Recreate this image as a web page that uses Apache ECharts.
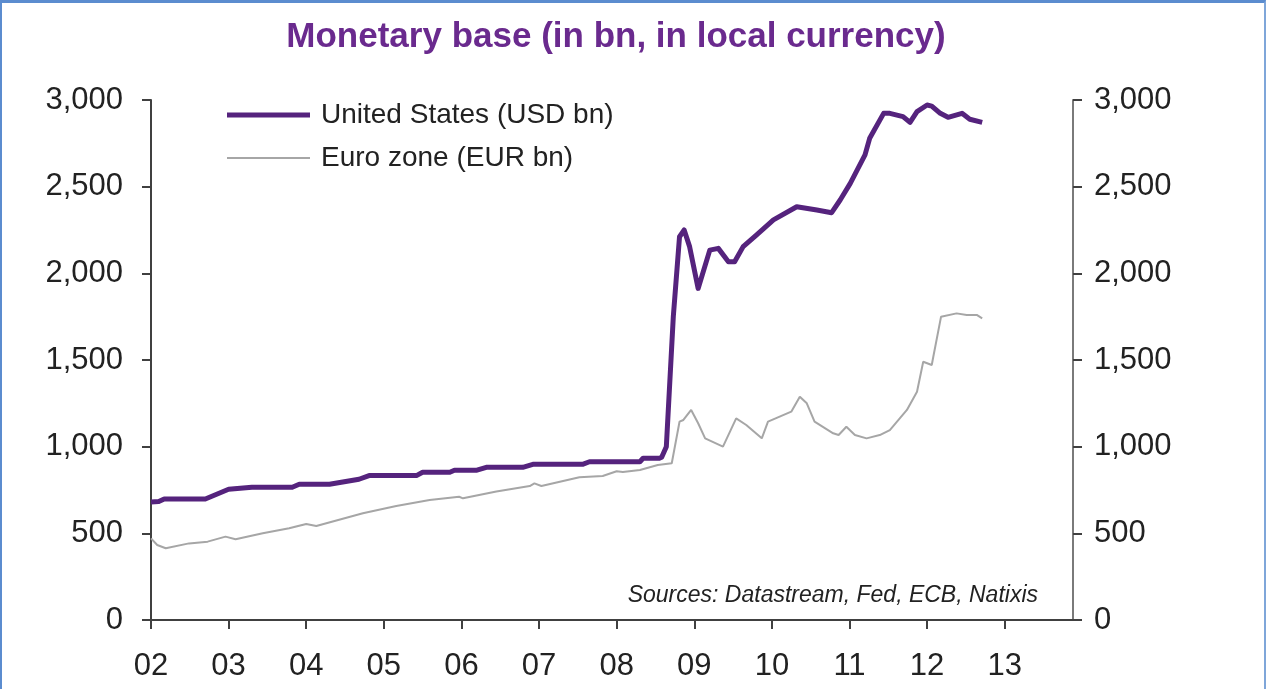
<!DOCTYPE html>
<html>
<head>
<meta charset="utf-8">
<title>Monetary base</title>
<script src="https://cdn.jsdelivr.net/npm/echarts@6/dist/echarts.min.js"></script>
<style>
  html, body { margin: 0; padding: 0; background: #fff; }
  #frame {
    position: absolute; left: 0; top: 0; width: 1266px; height: 689px;
    box-sizing: border-box;
    border-top: 3px solid #5b8ccf;
    border-left: 2px solid #5b8ccf;
    border-right: 2px solid #7fa6d9;
    pointer-events: none;
  }
  #chart { position: absolute; left: 0; top: 0; width: 1266px; height: 689px; }
</style>
</head>
<body>
<div id="chart"></div>
<div id="frame"></div>
<script>
// x values are decimal years (2002.5 = mid 2002)
const yearTicks = [2002, 2003, 2004, 2005, 2006, 2007, 2008, 2009, 2010, 2011, 2012, 2013];

const usDates = [
  2002.0, 2002.1, 2002.17, 2002.7, 2003.0, 2003.3, 2003.82, 2003.91, 2004.3, 2004.68,
  2004.81, 2005.42, 2005.5, 2005.85, 2005.91, 2006.2, 2006.32, 2006.79, 2006.92, 2007.56,
  2007.65, 2008.3, 2008.34, 2008.55, 2008.58, 2008.64, 2008.73, 2008.81, 2008.87, 2008.94,
  2009.05, 2009.2, 2009.31, 2009.44, 2009.52, 2009.63, 2009.8, 2010.02, 2010.32, 2010.58,
  2010.77, 2010.88, 2011.01, 2011.2, 2011.26, 2011.44, 2011.52, 2011.69, 2011.78, 2011.87,
  2012.0, 2012.06, 2012.17, 2012.27, 2012.45, 2012.55, 2012.71
];
const usValues = [
  681, 683, 698, 698, 754, 766, 766, 783, 783, 812,
  833, 833, 852, 852, 864, 864, 881, 881, 898, 898,
  913, 913, 933, 933, 939, 1000, 1750, 2211, 2250, 2154,
  1913, 2134, 2144, 2067, 2067, 2154, 2221, 2308, 2384, 2365,
  2350, 2423, 2519, 2683, 2779, 2923, 2923, 2904, 2871, 2933,
  2971, 2965, 2923, 2900, 2923, 2889, 2871
];

const euDates = [
  2002.0, 2002.08, 2002.19, 2002.49, 2002.73, 2002.96, 2003.09, 2003.44, 2003.78, 2004.0,
  2004.13, 2004.73, 2005.16, 2005.59, 2005.97, 2006.02, 2006.45, 2006.88, 2006.94, 2007.03,
  2007.52, 2007.82, 2008.0, 2008.08, 2008.3, 2008.53, 2008.71, 2008.81, 2008.86, 2008.96,
  2009.05, 2009.14, 2009.37, 2009.54, 2009.67, 2009.87, 2009.95, 2010.25, 2010.36, 2010.45,
  2010.55, 2010.79, 2010.86, 2010.96, 2011.07, 2011.22, 2011.39, 2011.52, 2011.74, 2011.87,
  2011.95, 2012.06, 2012.08, 2012.18, 2012.38, 2012.51, 2012.64, 2012.66, 2012.71
];
const euValues = [
  471, 433, 414, 442, 452, 481, 466, 500, 529, 554,
  542, 616, 658, 692, 711, 702, 741, 773, 788, 773,
  823, 831, 858, 854, 865, 894, 904, 1144, 1154, 1212,
  1135, 1048, 1000, 1163, 1125, 1048, 1144, 1202, 1288, 1250,
  1144, 1077, 1067, 1115, 1067, 1048, 1067, 1096, 1212, 1317,
  1490, 1471, 1519, 1750, 1769, 1760, 1760, 1769, 1740
];

const titleText = "Monetary base (in bn, in local currency)";
const sourceText = "Sources: Datastream, Fed, ECB, Natixis";
const usName = "United States (USD bn)";
const euName = "Euro zone (EUR bn)";

const FONT = "'Liberation Sans', Arial, sans-serif";
const US_COLOR = "#55237d";
const EU_COLOR = "#a6a6a6";

function pairs(xs, ys) {
  return xs.map((x, i) => [x, ys[i]]);
}

function fmtThousands(v) {
  return v.toLocaleString("en-US");
}

function legendFor(name, color, thickness, top) {
  return {
    orient: "vertical",
    left: 222,
    top: top,
    itemWidth: 83,
    itemHeight: thickness,
    data: [{ name: name, icon: "rect", itemStyle: { color: color } }],
    textStyle: {
      fontFamily: FONT,
      fontSize: 28,
      color: "#222",
      padding: [0, 0, 0, 6],
    },
  };
}

const axisLabelStyle = {
  fontFamily: FONT,
  fontSize: 31,
  color: "#222",
};

const chart = echarts.init(document.getElementById("chart"));

chart.setOption({
  animation: false,
  backgroundColor: "#fff",
  title: {
    text: titleText,
    left: 611,
    textAlign: "center",
    top: 15,
    textStyle: {
      fontFamily: FONT,
      fontSize: 35,
      fontWeight: "bold",
      color: "#6a2a8e",
    },
  },
  legend: [
    legendFor(usName, US_COLOR, 5, 96),
    legendFor(euName, EU_COLOR, 2, 139),
  ],
  graphic: [
    {
      type: "text",
      right: 1266 - 1038,
      top: 584,
      style: {
        text: sourceText,
        font: "italic 23px " + FONT,
        fill: "#222",
      },
    },
  ],
  grid: {
    left: 151,
    right: 193,
    top: 100,
    bottom: 69,
  },
  xAxis: {
    type: "value",
    min: 2002,
    max: 2013.88,
    interval: 1,
    splitLine: { show: false },
    axisLine: { lineStyle: { color: "#404040", width: 2 } },
    axisTick: {
      length: 9,
      customValues: yearTicks,
      lineStyle: { color: "#404040", width: 2 },
    },
    axisLabel: Object.assign({}, axisLabelStyle, {
      customValues: yearTicks,
      margin: 31,
      formatter: (v) => String(Math.round(v) % 100).padStart(2, "0"),
    }),
  },
  yAxis: [
    {
      type: "value",
      position: "left",
      min: 0,
      max: 3000,
      interval: 500,
      splitLine: { show: false },
      axisLine: { show: true, lineStyle: { color: "#404040", width: 2 } },
      axisTick: { show: true, length: 9, lineStyle: { color: "#404040", width: 2 } },
      axisLabel: Object.assign({}, axisLabelStyle, {
        margin: 28,
        formatter: fmtThousands,
      }),
    },
    {
      type: "value",
      position: "right",
      min: 0,
      max: 3000,
      interval: 500,
      splitLine: { show: false },
      axisLine: { show: true, lineStyle: { color: "#7a7a7a", width: 2 } },
      axisTick: { show: true, length: 9, lineStyle: { color: "#404040", width: 2 } },
      axisLabel: Object.assign({}, axisLabelStyle, {
        margin: 21,
        formatter: fmtThousands,
      }),
    },
  ],
  series: [
    {
      name: usName,
      type: "line",
      yAxisIndex: 0,
      data: pairs(usDates, usValues),
      showSymbol: false,
      symbol: "none",
      z: 3,
      itemStyle: { color: US_COLOR },
      lineStyle: { color: US_COLOR, width: 5, join: "round" },
    },
    {
      name: euName,
      type: "line",
      yAxisIndex: 1,
      data: pairs(euDates, euValues),
      showSymbol: false,
      symbol: "none",
      z: 2,
      itemStyle: { color: EU_COLOR },
      lineStyle: { color: EU_COLOR, width: 2 },
    },
  ],
});
</script>
</body>
</html>
